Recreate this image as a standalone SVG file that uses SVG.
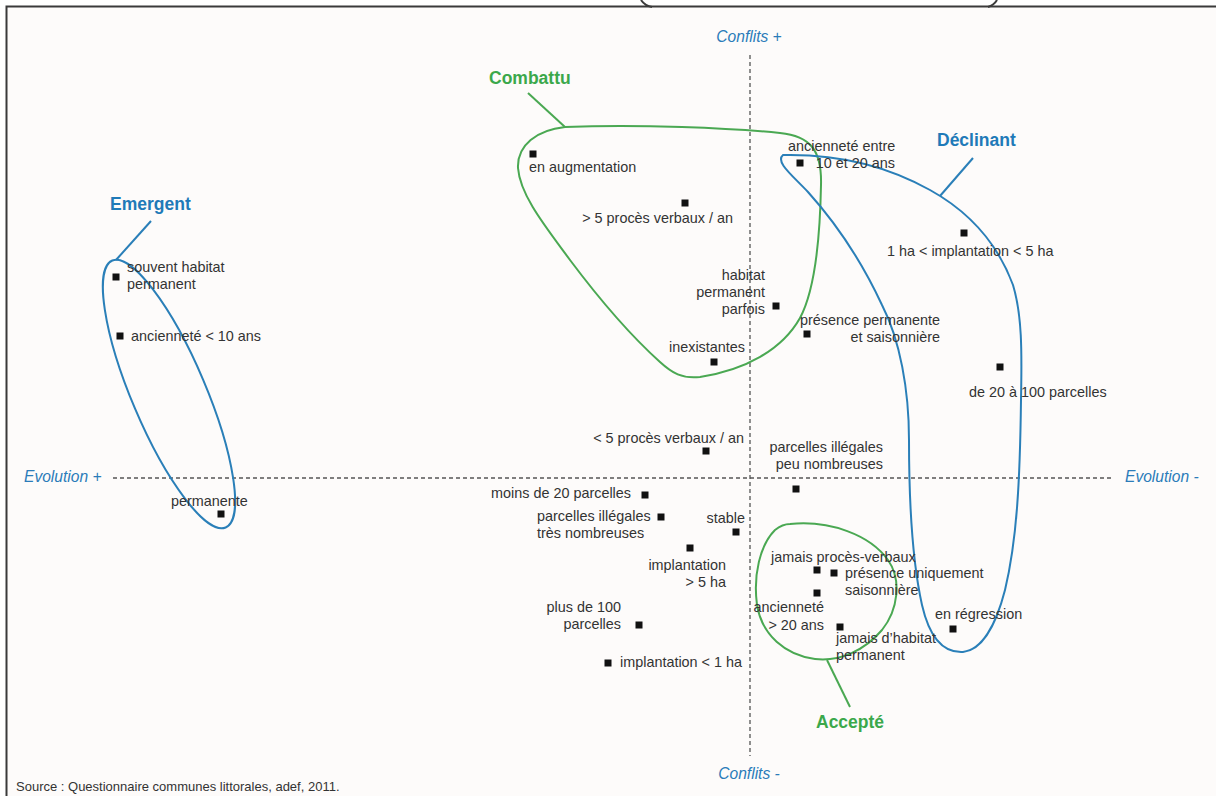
<svg xmlns="http://www.w3.org/2000/svg" width="1216" height="796" viewBox="0 0 1216 796">
  <style>
    .lbl { font-family: "Liberation Sans", Arial, sans-serif; font-size: 14.4px; fill: #333; }
    .r { text-anchor: end; }
    .axis { font-family: "Liberation Sans", Arial, sans-serif; font-size: 15.6px; font-style: italic; fill: #2b7bb9; }
    .grp { font-family: "Liberation Sans", Arial, sans-serif; font-size: 17.5px; font-weight: bold; }
    .blue { fill: #1f7ab8; }
    .green { fill: #3ba84b; }
    .hull { fill: none; stroke-width: 2; stroke-linejoin: round; }
    .hb { stroke: #2a7fb8; }
    .hg { stroke: #4aa852; }
    .dash { stroke: #555; stroke-width: 1.3; stroke-dasharray: 4 3; fill: none; }
    .pt { fill: #111; }
  </style>
  <defs>
    <rect id="sq" x="-3.5" y="-3.5" width="7" height="7" class="pt"/>
  </defs>

  <!-- page background and frame -->
  <rect x="0" y="0" width="1216" height="796" fill="#ffffff"/>
  <rect x="6.5" y="6.5" width="1220" height="800" fill="#fdfbfa" stroke="#3a3a3a" stroke-width="2"/>
  <path d="M 641 0 Q 645 6 652 7 M 988 7 Q 994 5 997 0" fill="none" stroke="#3a3a3a" stroke-width="2"/>

  <!-- axes -->
  <g id="axes">
    <line class="dash" x1="750" y1="55" x2="750" y2="756"/>
    <line class="dash" x1="113" y1="478" x2="1112" y2="478"/>
    <text class="axis" x="749" y="42" text-anchor="middle">Conflits +</text>
    <text class="axis" x="749" y="779" text-anchor="middle">Conflits -</text>
    <text class="axis" x="24" y="482">Evolution +</text>
    <text class="axis" x="1125" y="482">Evolution -</text>
  </g>

  <!-- group outlines with leader lines -->
  <g id="connectors">
    <path class="hull hg" d="M 565 127 C 640 124 730 128 780 133 C 810 136 822 150 821 185 C 820 240 815 290 800 318 C 782 350 745 370 700 377 C 682 379 672 373 660 362 C 630 335 600 300 570 260 C 545 226 520 195 518 168 C 517 145 537 130 565 127 Z"/>
    <line class="hull hg" x1="528" y1="93" x2="565" y2="127"/>

    <ellipse class="hull hb" cx="169" cy="394" rx="145" ry="37" transform="rotate(67 169 394)"/>
    <line class="hull hb" x1="151" y1="221" x2="116" y2="260"/>

    <path class="hull hb" d="M 783 155 C 830 154 880 162 930 190 C 975 215 1000 250 1013 285 C 1022 315 1022 350 1021 400 C 1020 480 1017 540 1005 590 C 996 625 982 650 963 652 C 945 653 930 640 922 605 C 912 560 909 500 909 440 C 909 390 900 340 882 305 C 862 262 835 222 808 192 C 792 175 775 162 783 155 Z"/>
    <line class="hull hb" x1="940" y1="196" x2="973" y2="158"/>

    <path class="hull hg" d="M 790 524 C 830 520 870 535 888 560 C 902 580 898 610 882 630 C 865 650 840 662 815 659 C 785 655 762 635 757 605 C 753 575 760 545 775 530 C 780 526 785 524 790 524 Z"/>
    <line class="hull hg" x1="827" y1="660" x2="850" y2="707"/>
  </g>

  <!-- group titles -->
  <g id="group-combattu"><text class="grp green" x="489" y="84">Combattu</text></g>
  <g id="group-emergent"><text class="grp blue" x="110" y="210">Emergent</text></g>
  <g id="group-declinant"><text class="grp blue" x="937" y="146">Déclinant</text></g>
  <g id="group-accepte"><text class="grp green" x="816" y="728">Accepté</text></g>

  <!-- modalities -->
  <g id="n-en-augmentation"><use href="#sq" x="533" y="154"/><text class="lbl" x="529" y="172">en augmentation</text></g>
  <g id="n-pv-plus5"><use href="#sq" x="685" y="203"/><text class="lbl r" x="733" y="223">&gt; 5 procès verbaux / an</text></g>
  <g id="n-habitat-parfois"><use href="#sq" x="776" y="306"/>
    <text class="lbl r" x="765" y="280">habitat</text>
    <text class="lbl r" x="765" y="297">permanent</text>
    <text class="lbl r" x="765" y="314">parfois</text></g>
  <g id="n-inexistantes"><use href="#sq" x="714" y="362"/><text class="lbl" x="669" y="352">inexistantes</text></g>
  <g id="n-anciennete-10-20"><use href="#sq" x="800" y="163"/>
    <text class="lbl" x="788" y="151">ancienneté entre</text>
    <text class="lbl r" x="895" y="168">10 et 20 ans</text></g>
  <g id="n-implantation-1-5"><use href="#sq" x="964" y="233"/><text class="lbl" x="887" y="256">1 ha &lt; implantation &lt; 5 ha</text></g>
  <g id="n-presence-perm-sais"><use href="#sq" x="807" y="334"/>
    <text class="lbl" x="800" y="325">présence permanente</text>
    <text class="lbl r" x="940" y="342">et saisonnière</text></g>
  <g id="n-20-100-parcelles"><use href="#sq" x="1000" y="367"/><text class="lbl" x="969" y="397">de 20 à 100 parcelles</text></g>
  <g id="n-souvent-habitat"><use href="#sq" x="116" y="277"/>
    <text class="lbl" x="127" y="272">souvent habitat</text>
    <text class="lbl" x="127" y="289">permanent</text></g>
  <g id="n-anciennete-10"><use href="#sq" x="120" y="336"/><text class="lbl" x="131" y="341">ancienneté &lt; 10 ans</text></g>
  <g id="n-permanente"><use href="#sq" x="221" y="514"/><text class="lbl" x="171" y="506">permanente</text></g>
  <g id="n-pv-moins5"><use href="#sq" x="706" y="451"/><text class="lbl r" x="744" y="443">&lt; 5 procès verbaux / an</text></g>
  <g id="n-illegales-peu"><use href="#sq" x="796" y="489"/>
    <text class="lbl r" x="883" y="452">parcelles illégales</text>
    <text class="lbl r" x="883" y="469">peu nombreuses</text></g>
  <g id="n-moins-20"><use href="#sq" x="645" y="495"/><text class="lbl r" x="631" y="498">moins de 20 parcelles</text></g>
  <g id="n-illegales-tres"><use href="#sq" x="661" y="517"/>
    <text class="lbl" x="537" y="521">parcelles illégales</text>
    <text class="lbl" x="537" y="538">très nombreuses</text></g>
  <g id="n-stable"><use href="#sq" x="736" y="532"/><text class="lbl r" x="745" y="523">stable</text></g>
  <g id="n-implantation-5"><use href="#sq" x="690" y="548"/>
    <text class="lbl r" x="726" y="570">implantation</text>
    <text class="lbl r" x="726" y="587">&gt; 5 ha</text></g>
  <g id="n-plus-100"><use href="#sq" x="639" y="625"/>
    <text class="lbl r" x="621" y="612">plus de 100</text>
    <text class="lbl r" x="621" y="629">parcelles</text></g>
  <g id="n-implantation-1"><use href="#sq" x="608" y="663"/><text class="lbl" x="620" y="667">implantation &lt; 1 ha</text></g>
  <g id="n-jamais-pv"><use href="#sq" x="817" y="570"/><text class="lbl" x="771" y="562">jamais procès-verbaux</text></g>
  <g id="n-presence-sais"><use href="#sq" x="834" y="573"/>
    <text class="lbl" x="845" y="578">présence uniquement</text>
    <text class="lbl" x="845" y="595">saisonnière</text></g>
  <g id="n-anciennete-20"><use href="#sq" x="817" y="593"/>
    <text class="lbl r" x="824" y="612">ancienneté</text>
    <text class="lbl r" x="824" y="630">&gt; 20 ans</text></g>
  <g id="n-jamais-habitat"><use href="#sq" x="840" y="627"/>
    <text class="lbl" x="836" y="643">jamais d’habitat</text>
    <text class="lbl" x="836" y="660">permanent</text></g>
  <g id="n-regression"><use href="#sq" x="953" y="629"/><text class="lbl" x="935" y="619">en régression</text></g>

  <text class="lbl" x="16" y="791" style="font-size:13px">Source : Questionnaire communes littorales, adef, 2011.</text>
</svg>
